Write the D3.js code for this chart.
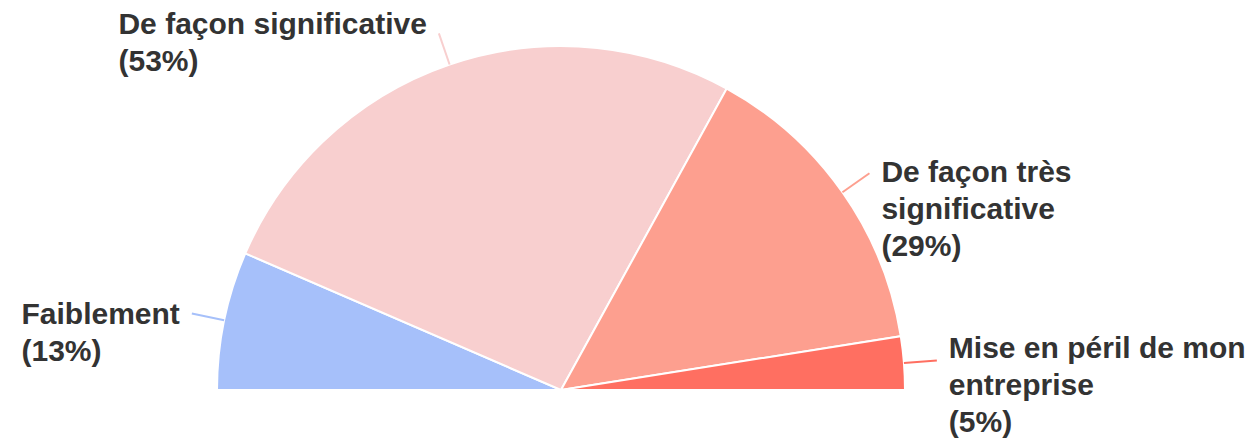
<!DOCTYPE html>
<html>
<head>
<meta charset="utf-8">
<script src="https://cdn.jsdelivr.net/npm/d3@7"></script>
<style>
  body { margin: 0; background: #fff; }
  text { font-family: "Liberation Sans", Arial, sans-serif; font-weight: bold; fill: #333; }
</style>
</head>
<body>
<div id="chart"></div>
<script>
var categories = ["Faiblement", "De façon significative", "De façon très significative", "Mise en péril de mon entreprise"];
var values = [13, 53, 29, 5];
var colors = ["#a6c0fa", "#f8cfcf", "#fd9f8f", "#ff6f61"];

var width = 1257, height = 444;
var cx = 561, cy = 390, radius = 344;
var fontSize = 30, lineH = 37, maxLine = 330;
// baseline of first label line relative to the leader end
var labelShift = [10, 1, 9, -2];

var svg = d3.select("#chart").append("svg")
    .attr("width", width)
    .attr("height", height);

var g = svg.append("g")
    .attr("transform", "translate(" + cx + "," + cy + ")");

var pie = d3.pie()
    .sort(null)
    .startAngle(-Math.PI / 2)
    .endAngle(Math.PI / 2);

var arcs = pie(values);

var arc = d3.arc().innerRadius(0).outerRadius(radius);

g.selectAll("path.slice")
    .data(arcs)
    .enter().append("path")
    .attr("class", "slice")
    .attr("d", arc)
    .attr("fill", function(d, i){ return colors[i]; })
    .attr("stroke", "#fff")
    .attr("stroke-width", 2);

// leader lines, radial
var inner = d3.arc().innerRadius(radius).outerRadius(radius);
var outer = d3.arc().innerRadius(radius + 33).outerRadius(radius + 33);

g.selectAll("line.leader")
    .data(arcs)
    .enter().append("line")
    .attr("class", "leader")
    .attr("x1", function(d){ return inner.centroid(d)[0]; })
    .attr("y1", function(d){ return inner.centroid(d)[1]; })
    .attr("x2", function(d){ return outer.centroid(d)[0]; })
    .attr("y2", function(d){ return outer.centroid(d)[1]; })
    .attr("stroke", function(d, i){ return colors[i]; })
    .attr("stroke-width", 2);

// measure text for wrapping
var measurer = svg.append("text").style("font-size", fontSize + "px");
function textW(s){
    measurer.text(s);
    return measurer.node().getComputedTextLength();
}

function wrap(s){
    var words = s.split(" "), lines = [], cur = "";
    words.forEach(function(w){
        var test = cur ? cur + " " + w : w;
        if (cur && textW(test) > maxLine) { lines.push(cur); cur = w; }
        else cur = test;
    });
    lines.push(cur);
    return lines;
}

arcs.forEach(function(d, i){
    var p = outer.centroid(d);
    var lines = wrap(categories[i]);
    lines.push("(" + values[i] + "%)");
    var right = p[0] > 0;
    var blockW = d3.max(lines, textW);
    var x0 = right ? p[0] + 12 : p[0] - 12 - blockW;
    var t = g.append("text")
        .attr("x", x0)
        .attr("y", p[1] + labelShift[i])
        .style("font-size", fontSize + "px");
    lines.forEach(function(l, j){
        t.append("tspan")
            .attr("x", x0)
            .attr("dy", j == 0 ? 0 : lineH)
            .text(l);
    });
});

measurer.remove();
</script>
</body>
</html>
